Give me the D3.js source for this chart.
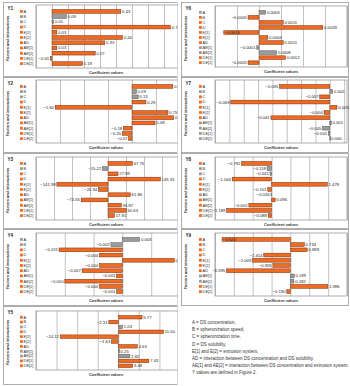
<!DOCTYPE html>
<html><head><meta charset="utf-8">
<script src="https://cdn.jsdelivr.net/npm/d3@7/dist/d3.min.js"></script>
<style>
html,body{margin:0;padding:0;background:#fff;}
svg{display:block;font-family:"Liberation Sans",Arial,sans-serif;}
</style></head>
<body>
<svg id="chart" width="350" height="386"></svg>
<script>
const factors = ["A","B","C","D","E[1]","E[2]","AD","AE[1]","AE[2]","DE[1]","DE[2]"];

const y1 = [0.43, 0.09, 0.01, 0.74, 0.03, 0.44, 0.33, 0.03, 0.27, -0.01, 0.19];
const y2 = [0.85, 0.09, 0.13, 0.29, -1.60, 0.75, 0.87, 0.48, -0.18, -0.20, -0.07];
const y3 = [67.75, -15.22, 27.89, 145.33, -141.99, -26.34, 61.86, -74.55, 36.87, 50.63, 17.91];
const y4 = [0.003, -0.002, -0.011, -0.004, 0.009, -0.004, -0.007, -0.001, -0.010, -0.004, -0.001];
const y5 = [5.77, -2.31, 1.03, 11.00, -14.12, -1.63, 4.63, 0.25, 2.82, 7.43, 3.48];
const y6 = [0.0003, -0.0005, 0.0011, 0.0029, -0.0016, 0.0004, 0.0011, -0.0001, 0.0008, 0.0012, -0.0005];
const y7 = [-0.035, 0.002, -0.007, -0.069, 0.005, -0.004, -0.041, 0.001, -0.005, -0.001, 0.000];
const y8 = [-0.792, -0.118, -0.041, -1.044, 1.478, -0.101, -0.016, 0.096, -0.602, -1.189, -0.089];
const y9 = [-3.626, 0.734, 0.889, -1.414, -2.009, -0.926, -3.395, 0.199, 0.182, 1.986, -0.190];

// non-significant (gray) factors per response
const gray1 = ["B","C"];
const gray2 = ["B","C"];
const gray3 = ["B"];
const gray4 = ["A","B"];
const gray5 = ["C","AE[1]","AE[2]"];
const gray6 = ["A","AE[1]","AE[2]"];
const gray7 = ["B","AE[1]","AE[2]","DE[1]","DE[2]"];
const gray8 = ["B","C","AD"];
const gray9 = ["AE[1]","AE[2]"];

const domains = [[-0.1,0.8],[-2,1],[-200,200],[-0.015,0.01],[-20,15],[-0.002,0.004],[-0.08,0.012],[-1.5,2],[-4,3]];
const tickSteps = [0.1,0.5,50,0.005,5,0.001,0.01,0.5,1];
const decimals = [2,2,2,3,2,4,3,3,3];
const names = ["Y1","Y2","Y3","Y4","Y5","Y6","Y7","Y8","Y9"];

const notes = [
  "A = DS concentration,",
  "B = spheronization speed,",
  "C = spheronization time,",
  "D = DS solubility,",
  "E[1] and E[2] = extrusion system,",
  "AD = interaction between DS concentration and DS solubility,",
  "AE[1] and AE[2] = interaction between DS concentration and extrusion system.",
  "Y values are defined in Figure 2."
];

const values = [y1,y2,y3,y4,y5,y6,y7,y8,y9];
const grays = [gray1,gray2,gray3,gray4,gray5,gray6,gray7,gray8,gray9];

const ORANGE = "#f26a22", ORANGE_S = "#6b2e0c", GRAY = "#9b9b9b", GRAY_S = "#505050";

// layout
const leftFrameTop = [2, 77, 153, 229, 306], leftFrameBot = [76, 152, 228, 305, 384];
const leftPlotTop = [5, 80, 157, 233, 311], leftPlotBot = [68, 143, 220, 296, 370];
const rightFrameTop = [2, 77, 153, 229], rightFrameBot = [76, 152, 228, 305];
const rightPlotTop = [6, 80, 157, 233], rightPlotBot = [67, 143, 220, 296];

const svg = d3.select("#chart");
const defs = svg.append("defs");
defs.append("clipPath").attr("id","clipL").append("rect").attr("x",0).attr("y",0).attr("width",177.5).attr("height",386);

function panel(i) {
  const left = i < 5;
  const r = left ? i : i - 5;
  const fx0 = left ? 3 : 181, fx1 = left ? 177 : 348;
  const fy0 = left ? leftFrameTop[r] : rightFrameTop[r];
  const fy1 = left ? leftFrameBot[r] : rightFrameBot[r];
  const py0 = left ? leftPlotTop[r] : rightPlotTop[r];
  const py1 = left ? leftPlotBot[r] : rightPlotBot[r];
  const px0 = left ? 36 : 215, px1 = left ? 180 : 347;

  const g = svg.append("g");
  if (left) g.attr("clip-path","url(#clipL)");

  g.append("rect").attr("x",fx0+0.5).attr("y",fy0+0.5).attr("width",fx1-fx0).attr("height",fy1-fy0)
    .attr("fill","#fff").attr("stroke","#9a9a9a").attr("stroke-width",0.8);

  const x = d3.scaleLinear().domain(domains[i]).range([px0, px1]);
  const y = d3.scaleBand().domain(factors).range([py0+4, py1-2]).paddingInner(0.28).paddingOuter(0.1);

  const [d0,d1] = domains[i];
  const step = tickSteps[i];
  const ticks = d3.range(Math.ceil(d0/step - 1e-9), Math.floor(d1/step + 1e-9)+1).map(k => k*step);
  const xAxis = d3.axisBottom(x).tickValues(ticks).tickSize(-(py1-py0)).tickFormat("");
  const ax = g.append("g").attr("transform",`translate(0,${py1})`).call(xAxis);
  ax.select(".domain").remove();
  ax.selectAll(".tick line").attr("stroke","#9a9a9a").attr("stroke-width",0.6);

  g.append("rect").attr("x",px0).attr("y",py0).attr("width",px1-px0).attr("height",py1-py0)
    .attr("fill","none").attr("stroke","#8a8a8a").attr("stroke-width",0.7);

  const vals = values[i], gr = grays[i];
  const fmt = d3.format(`.${decimals[i]}f`);
  const data = factors.map((f,k) => ({f, v: vals[k], gray: gr.includes(f)}));

  g.selectAll("rect.bar").data(data).join("rect").attr("class","bar")
    .attr("x", d => Math.min(x(0), x(d.v)))
    .attr("y", d => y(d.f))
    .attr("width", d => Math.max(0.6, Math.abs(x(d.v) - x(0))))
    .attr("height", y.bandwidth())
    .attr("fill", d => d.gray ? GRAY : ORANGE)
    .attr("stroke", d => d.gray ? GRAY_S : ORANGE_S)
    .attr("stroke-width", 0.5);

  const labels = g.selectAll("text.val").data(data).join("text").attr("class","val")
    .attr("y", d => y(d.f) + y.bandwidth()/2)
    .attr("dy","0.35em")
    .attr("font-size", 4.2).attr("fill","#222")
    .text(d => fmt(d.v));
  labels.each(function(d) {
    const t = d3.select(this);
    const w = this.getComputedTextLength();
    if (d.v >= 0) {
      t.attr("x", x(d.v) + 1.3).attr("text-anchor","start");
    } else if (x(d.v) - 1.3 - w < px0 - 4) {
      t.attr("x", x(d.v) + 0.8).attr("text-anchor","start");
    } else {
      t.attr("x", x(d.v) - 1.3).attr("text-anchor","end");
    }
  });

  // legend of factors
  const lx = left ? 20 : 199;
  const lg = g.append("g");
  lg.selectAll("rect").data(data).join("rect")
    .attr("x", lx).attr("y", d => y(d.f) + y.bandwidth()/2 - 1.4)
    .attr("width", 2.8).attr("height", 2.8)
    .attr("fill", d => d.gray ? GRAY : ORANGE);
  lg.selectAll("text").data(data).join("text")
    .attr("x", lx + 3.6).attr("y", d => y(d.f) + y.bandwidth()/2).attr("dy","0.35em")
    .attr("font-size", 3.9).attr("fill","#333").text(d => d.f);

  // titles
  g.append("text").attr("x", fx0 + 4.5).attr("y", fy0 + 8).attr("font-size", 4.6).attr("font-weight","bold")
    .attr("fill","#222").text(names[i]);
  g.append("text").attr("transform", `translate(${fx0 + 5.5},${(py0+py1)/2 + 2}) rotate(-90)`)
    .attr("text-anchor","middle").attr("font-size", 3.9).attr("font-weight","bold").attr("fill","#333")
    .text("Factors and interactions");
  const cx = left ? 106 : (px0+px1)/2;
  g.append("text").attr("x", cx).attr("y", py1 + 5.5).attr("text-anchor","middle")
    .attr("font-size", 4).attr("font-weight","bold").attr("fill","#333").text("Coefficient values");
}

for (let i = 0; i < 9; i++) panel(i);

svg.append("g").selectAll("text").data(notes).join("text")
  .attr("x", 192).attr("y", (d,k) => 324 + k*7.2)
  .attr("font-size", 4.5).attr("fill","#333").text(d => d);
</script>
</body></html>
